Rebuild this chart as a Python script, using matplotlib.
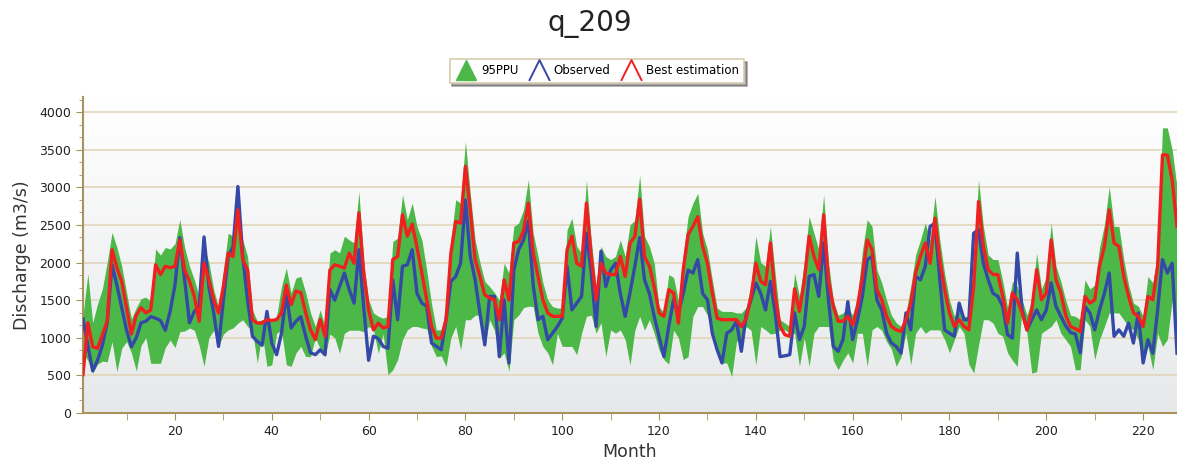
import numpy as np
import matplotlib.pyplot as plt
from matplotlib.lines import Line2D
from matplotlib.path import Path
from matplotlib.colors import LinearSegmentedColormap
from matplotlib.ticker import MultipleLocator, AutoMinorLocator

# --- data (monthly discharge, m3/s) ---
months = np.arange(1, 228)

observed = [
    1250, 900, 560, 700, 900, 1200, 1970, 1700, 1400, 1100,
    880, 1000, 1200, 1220, 1280, 1260, 1230, 1100, 1350, 1700,
    2330, 1770, 1200, 1350, 1420, 2340, 1680, 1330, 885, 1500,
    2080, 2210, 3010, 2080, 1500, 1020, 950, 900, 1350, 930,
    775, 1060, 1590, 1130, 1220, 1280, 1020, 800, 775, 840,
    775, 1640, 1500, 1680, 1860, 1640, 1460, 2170, 1400, 700,
    1020, 990, 885, 860, 1770, 1240, 1950, 1970, 2170, 1590,
    1460, 1420, 930, 885, 840, 1240, 1750, 1815, 1990, 2830,
    2080, 1770, 1330, 905, 1550, 1550, 750, 1505, 665, 1900,
    2170, 2300, 2550, 1700, 1240, 1285, 975, 1060, 1150, 1260,
    1950, 1370, 1460, 1550, 2390, 1860, 1150, 2150, 1680, 1900,
    1990, 1590, 1285, 1600, 1950, 2330, 1770, 1590, 1285, 1020,
    750, 1150, 1505, 1330, 1590, 1900, 1860, 2040, 1590, 1505,
    1060, 840, 665, 1060, 1105, 1220, 820, 1300, 1505, 1730,
    1590, 1370, 1750, 1330, 750, 760, 775, 1330, 975, 1150,
    1815, 1840, 1550, 2260, 1505, 885, 820, 975, 1480, 975,
    1240, 1550, 2040, 2080, 1505, 1370, 1060, 930, 885, 795,
    1330, 1105, 1815, 1770, 1950, 2480, 2520, 1770, 1105, 1060,
    1020, 1460, 1240, 1240, 2390, 2435, 1990, 1770, 1590, 1550,
    1415, 1040, 995, 2125, 1370, 1105, 1240, 1370, 1240, 1370,
    1730, 1415, 1285, 1160, 1070, 1050, 800, 1415, 1330, 1105,
    1370, 1590, 1860, 1020, 1105, 1020, 1195, 930, 1330, 665,
    975, 795, 1370, 2040, 1860, 1990, 795,
]

best_est = [
    510, 1200, 880, 860, 1040, 1220, 2170, 1930, 1750, 1400,
    1050, 1300, 1400, 1330, 1370, 1970, 1840, 1950, 1930, 1950,
    2300, 1900, 1750, 1550, 1220, 1990, 1770, 1505, 1330, 1680,
    2125, 2080, 2700, 2040, 1900, 1240, 1195, 1195, 1240, 1230,
    1240, 1330, 1700, 1440, 1620, 1600, 1330, 1105, 975, 1240,
    1020, 1900, 1970, 1950, 1925, 2125, 1990, 2660, 1860, 1370,
    1105, 1195, 1130, 1150, 2040, 2080, 2635, 2350, 2510, 2200,
    1860, 1505, 1150, 995, 995, 1240, 2125, 2545, 2525, 3280,
    2700, 2040, 1815, 1570, 1530, 1505, 1240, 1770, 1500, 2260,
    2280, 2420, 2790, 2125, 1815, 1505, 1330, 1285, 1285, 1285,
    2170, 2350, 1990, 1950, 2790, 2080, 1505, 1990, 1860, 1840,
    1840, 2080, 1815, 2258, 2347, 2840, 2080, 1950, 1680, 1330,
    1285, 1640, 1595, 1195, 1905, 2370, 2480, 2610, 2215, 1990,
    1595, 1260, 1240, 1240, 1240, 1240, 1150, 1250, 1550, 1990,
    1750, 1705, 2260, 1550, 1150, 1040, 1020, 1650, 1350, 1750,
    2350, 2080, 1905, 2635, 1770, 1415, 1220, 1220, 1285, 1170,
    1415, 1815, 2300, 2170, 1640, 1505, 1285, 1150, 1105, 1085,
    1240, 1460, 1860, 2080, 2260, 1990, 2590, 2040, 1640, 1330,
    1150, 1240, 1150, 1105, 1680, 2810, 2215, 1905, 1840, 1840,
    1550, 1195, 1595, 1505, 1330, 1105, 1370, 1905, 1505, 1595,
    2300, 1770, 1595, 1300, 1150, 1120, 1080, 1550, 1460, 1505,
    1950, 2215, 2700, 2260, 2215, 1815, 1550, 1330, 1285, 1150,
    1550, 1505, 1950, 3430, 3430, 3100, 2480,
]

ppu_upper = [
    1300, 1850, 1200, 1450, 1650, 2000, 2400, 2200, 1950, 1600,
    1250, 1400, 1520, 1540, 1480, 2180, 2100, 2200, 2180, 2250,
    2570, 2200, 1950, 1770, 1550, 2215, 2000, 1640, 1400, 1900,
    2390, 2350, 2745, 2300, 2080, 1370, 1220, 1240, 1240, 1240,
    1285, 1680, 1925, 1595, 1795, 1815, 1600, 1330, 1150, 1370,
    1150, 2125, 2170, 2130, 2350, 2300, 2260, 2945, 2000, 1505,
    1330, 1285, 1260, 1285, 2280, 2325, 2900, 2570, 2790, 2480,
    2300, 1900, 1450, 1105, 1105, 1370, 2300, 2835, 2790, 3610,
    2920, 2300, 2000, 1750, 1680, 1600, 1500, 1990, 1860, 2480,
    2525, 2700, 3100, 2390, 2080, 1730, 1505, 1415, 1395, 1395,
    2435, 2590, 2215, 2125, 3100, 2300, 1680, 2215, 2080, 2040,
    2080, 2300, 2080, 2500, 2560, 3160, 2350, 2215, 1990, 1415,
    1330, 1840, 1800, 1500, 2100, 2610, 2790, 2920, 2390, 2170,
    1770, 1395, 1350, 1350, 1350, 1330, 1330, 1400, 1700, 2350,
    2000, 1950, 2480, 1850, 1240, 1195, 1150, 1860, 1550, 2000,
    2610, 2390, 2170, 2900, 2000, 1500, 1300, 1330, 1400, 1300,
    1550, 2150, 2570, 2480, 1900, 1730, 1500, 1300, 1200, 1150,
    1330, 1680, 2100, 2300, 2525, 2300, 2880, 2300, 1850, 1500,
    1285, 1400, 1285, 1285, 2000, 3100, 2480, 2100, 2040, 2040,
    1750, 1400, 1750, 1680, 1500, 1300, 1500, 2125, 1650, 1800,
    2525, 1950, 1750, 1500, 1300, 1285, 1240, 1770, 1650, 1700,
    2200, 2500, 3010, 2480, 2480, 2040, 1700, 1460, 1420, 1285,
    1815, 1730, 2125, 3790, 3790, 3500, 3000,
]

ppu_lower = [
    800, 700, 530, 650, 690, 680, 950, 550, 860, 950,
    800, 560, 900, 1000, 660, 660, 660, 870, 970, 870,
    1080, 1090, 1130, 1100, 900, 620, 1000, 1100, 880, 1050,
    1105, 1130, 1195, 1240, 1150, 1100, 665, 1060, 620, 640,
    1060, 1100, 640, 620, 800, 885, 750, 750, 1000, 850,
    750, 1050, 1000, 795, 1060, 1100, 1100, 1100, 1080, 1150,
    1105, 795, 1050, 510, 575, 710, 975, 1105, 1150, 1150,
    1130, 1120, 885, 750, 760, 620, 1000, 1150, 840, 1240,
    1240, 1300, 1300, 885, 1240, 1100, 730, 800, 555, 1240,
    1300, 1400, 1420, 1415, 1060, 885, 800, 640, 1060, 885,
    885, 885, 775, 1060, 1285, 1300, 1060, 1200, 750, 1105,
    1060, 1105, 975, 640, 1100, 1285, 1100, 1240, 1060, 840,
    710, 650, 1100, 1000, 710, 750, 1285, 1415, 1415, 1300,
    1100, 885, 665, 665, 485, 950, 1000, 1150, 1100, 640,
    1150, 1105, 1050, 1060, 1105, 1105, 1060, 1060, 620, 1000,
    620, 1060, 1150, 1150, 1150, 700, 575, 700, 800, 665,
    1060, 1060, 620, 1105, 1150, 1100, 950, 850, 620, 750,
    1060, 640, 1060, 1150, 1060, 1105, 1105, 1105, 975, 800,
    975, 1150, 1060, 650, 530, 900, 1240, 1240, 1195, 1060,
    1020, 800, 700, 620, 1400, 1060, 530, 550, 1060, 1105,
    1150, 1240, 1060, 975, 885, 575, 575, 1240, 1150, 710,
    975, 1150, 1330, 1330, 1330, 1240, 1150, 1105, 975, 665,
    885, 575, 1060, 885, 975, 1500, 975,
]

W, H = 1177, 467
fig = plt.figure(figsize=(W / 100, H / 100), dpi=100)
fig.patch.set_facecolor("white")
ax = fig.add_axes([83 / W, 54 / H, 1094 / W, 316 / H])

# soft vertical gradient behind the plot
bg = LinearSegmentedColormap.from_list("bg", ["#e6e8ea", "#ffffff"])
grad = np.linspace(0, 1, 256).reshape(-1, 1)
ax.imshow(grad, extent=[0, 1, 0, 1], transform=ax.transAxes, cmap=bg,
          origin="lower", aspect="auto", zorder=0)

ax.fill_between(months, ppu_lower, ppu_upper, color="#4cb848", lw=0, zorder=2)
ax.plot(months, observed, color="#3448a8", lw=2.4, zorder=3)
ax.plot(months, best_est, color="#f02020", lw=2.4, zorder=4)

ax.set_xlim(1, 227)
ax.set_ylim(0, 4200)

ax.set_yticks(range(0, 4001, 500))
ax.yaxis.set_minor_locator(AutoMinorLocator(3))
ax.xaxis.set_major_locator(MultipleLocator(20))
ax.xaxis.set_minor_locator(MultipleLocator(10))
ax.grid(axis="y", color="#e2d5b9", lw=1.2, zorder=1)
ax.set_axisbelow(True)

spine_col = "#a8925e"
for side in ["top", "right"]:
    ax.spines[side].set_visible(False)
for side in ["left", "bottom"]:
    ax.spines[side].set_color(spine_col)
    ax.spines[side].set_linewidth(1.5)
ax.tick_params(which="both", direction="out", color=spine_col, labelsize=9,
               labelcolor="#222222")
ax.tick_params(which="major", length=5)
ax.tick_params(axis="y", which="minor", length=3)
ax.tick_params(axis="x", which="minor", length=5)

ax.set_xlabel("Month", fontsize=12.5, color="#333333", labelpad=4)
ax.set_ylabel("Discharge (m3/s)", fontsize=12.5, color="#333333", labelpad=6)
fig.text(590 / W, 1 - 24 / H, "q_209", ha="center", va="center",
         fontsize=20, color="#222222")

# legend with triangle / caret symbols
caret = Path([(-1, -1), (0, 1), (1, -1)], [Path.MOVETO, Path.LINETO, Path.LINETO])
handles = [
    Line2D([], [], ls="none", marker="^", markersize=15, color="#4cb848"),
    Line2D([], [], ls="none", marker=caret, markersize=15, markerfacecolor="none",
           markeredgecolor="#3448a8", markeredgewidth=1.4),
    Line2D([], [], ls="none", marker=caret, markersize=15, markerfacecolor="none",
           markeredgecolor="#f02020", markeredgewidth=1.4),
]
leg = fig.legend(handles, ["95PPU", "Observed", "Best estimation"], loc="center",
                 bbox_to_anchor=(597 / W, 1 - 71 / H), ncol=3, fontsize=8.5,
                 frameon=True, fancybox=False, shadow=True, handlelength=1.9,
                 handletextpad=0.3, columnspacing=0.8, borderpad=0.45)
leg.get_frame().set_edgecolor("#d8ccae")
leg.get_frame().set_linewidth(1.2)

fig.savefig("out.png", dpi=100)
